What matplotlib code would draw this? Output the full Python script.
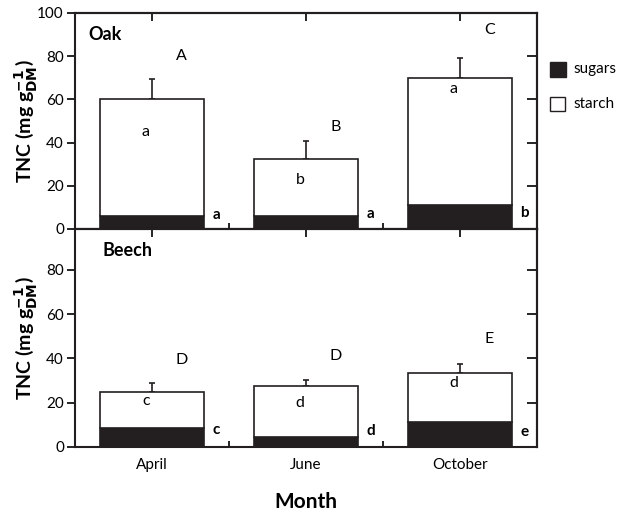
import matplotlib.pyplot as plt
import numpy as np
from matplotlib.patches import Rectangle

plt.rcParams['font.family'] = ['Lato', 'DejaVu Sans']

months = ['April', 'June', 'October']

# TNC split into sugars and starch (mg g-1 DM), upper SE bar on total
oak_sugars = [6.2, 6.2, 11.1]
oak_total = [60.0, 32.4, 70.0]
oak_se = [9.4, 8.5, 9.0]

beech_sugars = [8.4, 4.7, 11.5]
beech_total = [24.7, 27.6, 33.6]
beech_se = [4.1, 2.6, 4.0]

# significance letters: total (upper case), starch (in bar), sugars (bold)
oak_total_let = ['A', 'B', 'C']
oak_starch_let = ['a', 'b', 'a']
oak_sugar_let = ['a', 'a', 'b']
beech_total_let = ['D', 'D', 'E']
beech_starch_let = ['c', 'd', 'd']
beech_sugar_let = ['c', 'd', 'e']

oak_total_y = [80, 47, 92]
oak_starch_y = [45, 22.7, 65]
oak_sugar_y = [6.5, 7.0, 7.5]
beech_total_y = [39.4, 41.3, 48.9]
beech_starch_y = [21, 20, 29]
beech_sugar_y = [7.7, 7.2, 6.8]

x = np.arange(1, 4)
w = 0.67
ink = '#231f20'

fig = plt.figure(figsize=(6.22, 5.16), dpi=100)
ax1 = fig.add_axes([75/622, 1-229/516, 462/622, 216/516])
ax2 = fig.add_axes([75/622, 1-447/516, 462/622, 218/516])


def panel(ax, sugars, total, se, tl, sl, gl, ty, sy, gy, name, name_x, ymax):
    sugars = np.array(sugars)
    total = np.array(total)
    ax.bar(x, sugars, w, color=ink, edgecolor=ink, lw=1.2, zorder=2)
    ax.bar(x, total - sugars, w, bottom=sugars, color='white',
           edgecolor=ink, lw=1.2, zorder=2)
    ax.errorbar(x, total, yerr=[np.zeros(3), se], fmt='none', ecolor=ink,
                elinewidth=1.2, capsize=2, capthick=1.2, zorder=1)
    for i in range(3):
        ax.text(x[i] + 0.19, ty[i], tl[i], ha='center', va='center', fontsize=11.5)
        ax.text(x[i] - 0.04, sy[i], sl[i], ha='center', va='center', fontsize=11.5)
        ax.text(x[i] + 0.42, gy[i], gl[i], ha='center', va='center',
                fontsize=11, fontweight='bold')
    ax.text(name_x, 0.9, name, transform=ax.transAxes, fontsize=13,
            fontweight='bold', va='center')

    ax.set_xlim(0.5, 3.5)
    ax.set_ylim(0, ymax)
    ax.set_yticks(np.arange(0, min(ymax, 100) + 1, 20))
    ax.tick_params(axis='y', direction='out', length=6, width=1.2, labelsize=11, pad=2)
    ax.set_xticks(x)
    ax.set_xticks([1.5, 2.5], minor=True)
    ax.tick_params(axis='x', which='major', length=0, labelsize=11, pad=8)
    ax.tick_params(axis='x', which='minor', direction='in', length=4, width=1.2)
    for s in ax.spines.values():
        s.set_linewidth(1.5)
        s.set_color(ink)

    right = ax.secondary_yaxis('right')
    right.set_yticks(np.arange(20, 100, 20))
    right.tick_params(direction='in', length=7, width=1.2, labelright=False)
    right.spines['right'].set_linewidth(1.5)
    top = ax.secondary_xaxis('top')
    top.set_xticks(x)
    top.tick_params(direction='in', length=6, width=1.2, labeltop=False)
    top.spines['top'].set_linewidth(1.5)

    ax.set_ylabel(r'TNC (mg g$^{\mathbf{-1}}_{\mathbf{DM}}$)', fontsize=14,
                  fontweight='bold')
    ax.yaxis.set_label_coords(-0.075, 0.5)


panel(ax1, oak_sugars, oak_total, oak_se, oak_total_let, oak_starch_let,
      oak_sugar_let, oak_total_y, oak_starch_y, oak_sugar_y, 'Oak', 0.03, 100)
panel(ax2, beech_sugars, beech_total, beech_se, beech_total_let, beech_starch_let,
      beech_sugar_let, beech_total_y, beech_starch_y, beech_sugar_y, 'Beech', 0.06, 98.5)

ax1.set_xticklabels([])
ax2.set_xticklabels(months)
ax2.set_xlabel('Month', fontsize=15, fontweight='bold', labelpad=14)

# legend boxes at the right of the upper panel
fig.patches.append(Rectangle((550/622, 1-77/516), 16/622, 15/516, transform=fig.transFigure,
                             facecolor=ink, edgecolor=ink, lw=1))
fig.patches.append(Rectangle((550/622, 1-111/516), 15/622, 14/516, transform=fig.transFigure,
                             facecolor='white', edgecolor=ink, lw=1))
fig.text(573/622, 1-69/516, 'sugars', fontsize=11, va='center')
fig.text(573/622, 1-104/516, 'starch', fontsize=11, va='center')

fig.savefig('out.png', dpi=100)
